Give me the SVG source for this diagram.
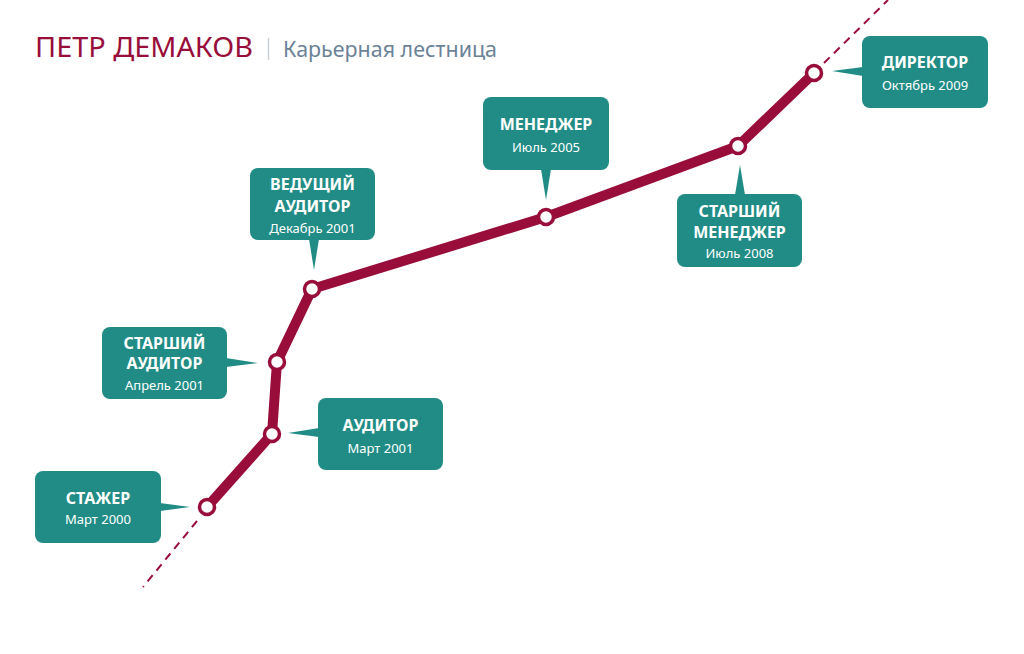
<svg xmlns="http://www.w3.org/2000/svg" width="1024" height="654" viewBox="0 0 1024 654">
<style>
.box{fill:#218c85}
.t{font-family:"Noto Sans","Open Sans",sans-serif;fill:#fff;text-anchor:middle}
.b{font-weight:bold;font-size:16px}
.s{font-size:13px}
.node{fill:#fff;stroke:#990d3a;stroke-width:3.5}
</style>
<rect width="1024" height="654" fill="#fff"/>
<g id="title">
<text x="35" y="57" font-family="Noto Sans,sans-serif" font-size="27" fill="#990d3a" textLength="218" lengthAdjust="spacingAndGlyphs">ПЕТР ДЕМАКОВ</text>
<line x1="268.5" y1="38" x2="268.5" y2="60" stroke="#c8d0d6" stroke-width="1.5"/>
<text x="283" y="57" font-family="Noto Sans,sans-serif" font-size="21.5" fill="#6b8297" textLength="214" lengthAdjust="spacingAndGlyphs">Карьерная лестница</text>
</g>
<g id="connectors">
<line x1="197" y1="521" x2="143" y2="587" stroke="#990d3a" stroke-width="2" stroke-dasharray="8,6"/>
<line x1="824" y1="63" x2="888" y2="0" stroke="#990d3a" stroke-width="2" stroke-dasharray="8,6"/>
<polyline points="207,507 272,434 277,362 312,289 546,217 738,146 814,73" fill="none" stroke="#990d3a" stroke-width="10" stroke-linejoin="round"/>
</g>
<g id="n1">
<rect class="box" x="35" y="471" width="126" height="72" rx="8"/>
<polygon class="box" points="160,503 190,507 160,511"/>
<text class="t b" x="98" y="504">СТАЖЕР</text>
<text class="t s" x="98" y="524">Март 2000</text>
<circle class="node" cx="207" cy="507" r="7.5"/>
</g>
<g id="n2">
<rect class="box" x="318" y="398" width="125" height="72" rx="8"/>
<polygon class="box" points="319,428 288,433 319,437"/>
<text class="t b" x="380.5" y="431">АУДИТОР</text>
<text class="t s" x="380.5" y="453">Март 2001</text>
<circle class="node" cx="272" cy="434" r="7.5"/>
</g>
<g id="n3">
<rect class="box" x="102" y="327" width="125" height="72" rx="8"/>
<polygon class="box" points="226,358 258,363 226,367"/>
<text class="t b" x="164.5" y="349">СТАРШИЙ</text>
<text class="t b" x="164.5" y="369">АУДИТОР</text>
<text class="t s" x="164.5" y="390">Апрель 2001</text>
<circle class="node" cx="277" cy="362" r="7.5"/>
</g>
<g id="n4">
<rect class="box" x="250" y="168" width="125" height="72" rx="8"/>
<polygon class="box" points="309,239 314,270 319,239"/>
<text class="t b" x="312.5" y="190">ВЕДУЩИЙ</text>
<text class="t b" x="312.5" y="212">АУДИТОР</text>
<text class="t s" x="312.5" y="233">Декабрь 2001</text>
<circle class="node" cx="312" cy="289" r="7.5"/>
</g>
<g id="n5">
<rect class="box" x="483" y="97" width="126" height="73" rx="8"/>
<polygon class="box" points="541,169 546,200 551,169"/>
<text class="t b" x="546" y="130">МЕНЕДЖЕР</text>
<text class="t s" x="546" y="152">Июль 2005</text>
<circle class="node" cx="546" cy="217" r="7.5"/>
</g>
<g id="n6">
<rect class="box" x="677" y="194" width="125" height="73" rx="8"/>
<polygon class="box" points="735,195 740,165 745,195"/>
<text class="t b" x="739.5" y="217">СТАРШИЙ</text>
<text class="t b" x="739.5" y="238">МЕНЕДЖЕР</text>
<text class="t s" x="739.5" y="258">Июль 2008</text>
<circle class="node" cx="738" cy="146" r="7.5"/>
</g>
<g id="n7">
<rect class="box" x="862" y="36" width="126" height="72" rx="8"/>
<polygon class="box" points="863,67 832,71 863,76"/>
<text class="t b" x="925" y="68">ДИРЕКТОР</text>
<text class="t s" x="925" y="90">Октябрь 2009</text>
<circle class="node" cx="814" cy="73" r="7.5"/>
</g>
</svg>
